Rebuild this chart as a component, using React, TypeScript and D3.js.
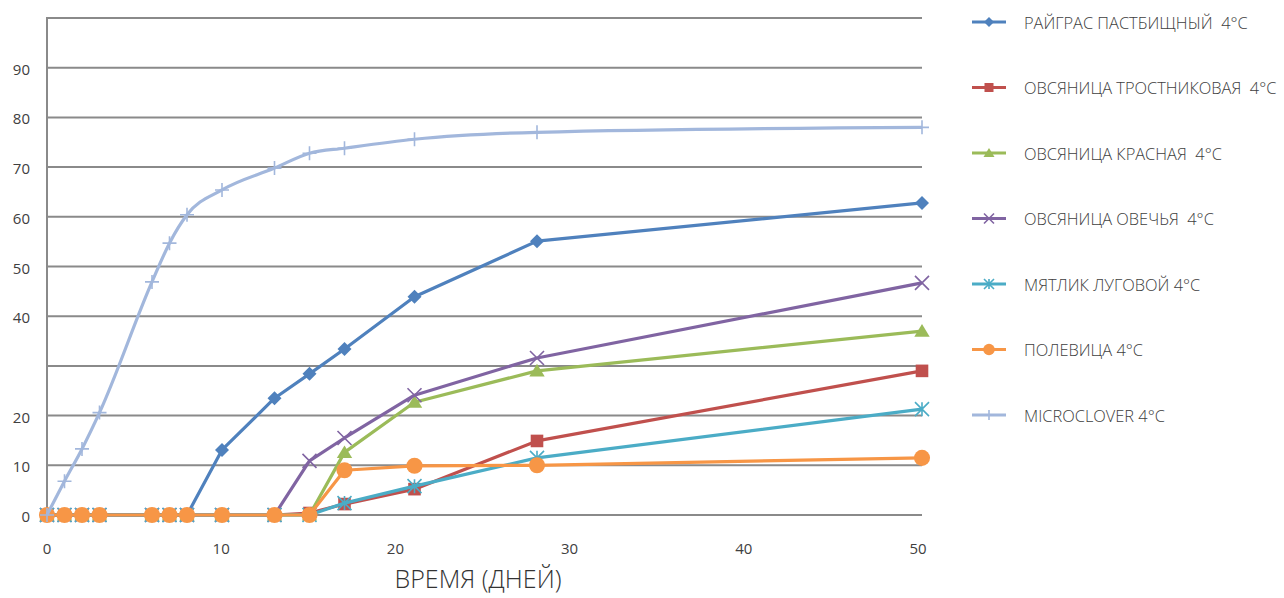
import React from "react";
import * as d3 from "d3";

const days = [0, 1, 2, 3, 6, 7, 8, 10, 13, 15, 17, 21, 28, 50];

const seriesNames = [
  "РАЙГРАС ПАСТБИЩНЫЙ  4°С",
  "ОВСЯНИЦА ТРОСТНИКОВАЯ  4°С",
  "ОВСЯНИЦА КРАСНАЯ  4°С",
  "ОВСЯНИЦА ОВЕЧЬЯ  4°С",
  "МЯТЛИК ЛУГОВОЙ 4°С",
  "ПОЛЕВИЦА 4°С",
  "MICROCLOVER 4°С",
];

const ryegrass = [0, 0, 0, 0, 0, 0, 0, 13.1, 23.5, 28.4, 33.4, 43.9, 55.1, 62.8];
const tallFescue = [0, 0, 0, 0, 0, 0, 0, 0, 0, 0.4, 2.2, 5.2, 14.9, 29];
const redFescue = [0, 0, 0, 0, 0, 0, 0, 0, 0, 0, 12.6, 22.7, 29, 37];
const sheepFescue = [0, 0, 0, 0, 0, 0, 0, 0, 0, 10.9, 15.5, 24.1, 31.6, 46.7];
const bluegrass = [0, 0, 0, 0, 0, 0, 0, 0, 0, 0, 2.4, 5.8, 11.5, 21.3];
const bentgrass = [0, 0, 0, 0, 0, 0, 0, 0, 0, 0, 9, 9.9, 10, 11.5];
const microclover = [0, 6.8, 13.3, 20.6, 46.9, 54.7, 60.4, 65.4, 69.8, 72.8, 73.8, 75.6, 77, 78];

const seriesValues = [ryegrass, tallFescue, redFescue, sheepFescue, bluegrass, bentgrass, microclover];
const colors = ["#4f81bd", "#c0504d", "#9bbb59", "#8064a2", "#4bacc6", "#f79646", "#a2b7dc"];
const markers = ["diamond", "square", "triangle", "x", "star", "circle", "plus"];

const yTickValues = [0, 10, 20, 40, 50, 60, 70, 80, 90];
const yGridValues = [0, 10, 20, 30, 40, 50, 60, 70, 80, 90, 100];
const xTickValues = [0, 10, 20, 30, 40, 50];
const xTitle = "ВРЕМЯ (ДНЕЙ)";

const W = 1284;
const H = 598;
const plot = { left: 47, right: 922, top: 18, bottom: 515 };
const font = "'Open Sans', 'Noto Sans', sans-serif";

function Marker({ kind, color, x, y, s }: { kind: string; color: string; x: number; y: number; s: number }) {
  const h = s / 2;
  switch (kind) {
    case "diamond":
      return <path d={`M${x},${y - h}L${x + h},${y}L${x},${y + h}L${x - h},${y}Z`} fill={color} />;
    case "square":
      return <rect x={x - h * 0.9} y={y - h * 0.9} width={h * 1.8} height={h * 1.8} fill={color} />;
    case "triangle":
      return <path d={`M${x},${y - h}L${x + h * 1.1},${y + h * 0.8}L${x - h * 1.1},${y + h * 0.8}Z`} fill={color} />;
    case "circle":
      return <circle cx={x} cy={y} r={h * 1.15} fill={color} />;
    case "x":
      return (
        <path d={`M${x - h},${y - h}L${x + h},${y + h}M${x - h},${y + h}L${x + h},${y - h}`} stroke={color} strokeWidth={1.6} fill="none" />
      );
    case "star":
      return (
        <path
          d={`M${x - h},${y - h}L${x + h},${y + h}M${x - h},${y + h}L${x + h},${y - h}M${x},${y - h}L${x},${y + h}`}
          stroke={color}
          strokeWidth={1.6}
          fill="none"
        />
      );
    case "plus":
      return <path d={`M${x - h},${y}L${x + h},${y}M${x},${y - h}L${x},${y + h}`} stroke={color} strokeWidth={1.6} fill="none" />;
    default:
      return null;
  }
}

export default function App() {
  const x = d3.scaleLinear().domain([0, 50]).range([plot.left, plot.right]);
  const y = d3.scaleLinear().domain([0, 100]).range([plot.bottom, plot.top]);

  const lineFor = (i: number) =>
    d3
      .line<number>()
      .x((_, k) => x(days[k]))
      .y((v) => y(v))
      .curve(markers[i] === "plus" ? d3.curveMonotoneX : d3.curveLinear);

  const legendX = 972;
  const legendTop = 22;
  const legendStep = 65.5;

  return (
    <svg
      width={W}
      height={H}
      viewBox={`0 0 ${W} ${H}`}
      style={{ position: "absolute", left: 0, top: 0, background: "#fff" }}
    >
      {yGridValues.map((v) => (
        <line key={v} x1={plot.left} x2={plot.right} y1={y(v)} y2={y(v)} stroke="#8a8a8a" strokeWidth={2} />
      ))}
      <line x1={plot.left} x2={plot.left} y1={plot.top - 1} y2={plot.bottom + 1} stroke="#8a8a8a" strokeWidth={2} />

      {yTickValues.map((v) => (
        <text key={v} x={30} y={y(v) + 1} textAnchor="end" dominantBaseline="central" fontFamily={font} fontSize={15} fill="#404040">
          {v}
        </text>
      ))}
      {xTickValues.map((v) => (
        <text key={v} x={x(v) - v * 0.08} y={548} textAnchor="middle" dominantBaseline="central" fontFamily={font} fontSize={15} fill="#404040">
          {v}
        </text>
      ))}
      <text x={478} y={578} textAnchor="middle" dominantBaseline="central" fontFamily={font} fontSize={25} fontWeight={300} fill="#333">
        {xTitle}
      </text>

      {seriesValues.map((vals, i) => (
        <g key={i}>
          <path d={lineFor(i)(vals) || ""} fill="none" stroke={colors[i]} strokeWidth={3.2} strokeLinejoin="round" />
          {vals.map((v, k) => (
            <Marker key={k} kind={markers[i]} color={colors[i]} x={x(days[k])} y={y(v)} s={14} />
          ))}
        </g>
      ))}

      {seriesNames.map((name, i) => {
        const ly = legendTop + i * legendStep;
        return (
          <g key={name}>
            <line x1={legendX} x2={legendX + 34} y1={ly} y2={ly} stroke={colors[i]} strokeWidth={3.2} />
            <Marker kind={markers[i]} color={colors[i]} x={legendX + 17} y={ly} s={10} />
            <text
              x={1024}
              y={ly}
              dominantBaseline="central"
              fontFamily={font}
              fontSize={16.4}
              fontWeight={300}
              fill="#404040"
              style={{ whiteSpace: "pre" }}
            >
              {name}
            </text>
          </g>
        );
      })}
    </svg>
  );
}
